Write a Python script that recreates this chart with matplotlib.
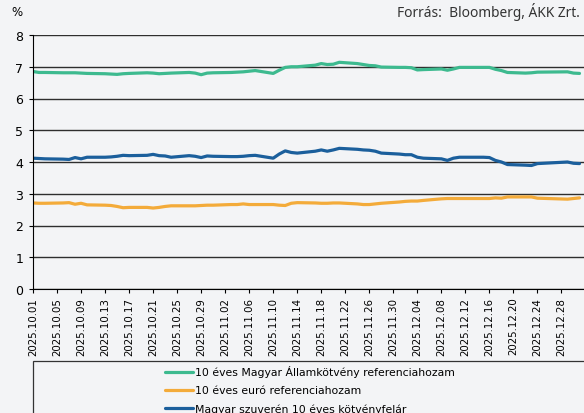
import numpy as np
import pandas as pd
import matplotlib
matplotlib.use('Agg')
import matplotlib.pyplot as plt
import matplotlib.dates as mdates
from matplotlib.patches import Rectangle

# trading days (weekdays) shown in the chart
dates_oct = ['10-01', '10-02', '10-03', '10-06', '10-07', '10-08', '10-09', '10-10',
             '10-13', '10-14', '10-15', '10-16', '10-17', '10-20', '10-21', '10-22',
             '10-23', '10-24', '10-27', '10-28', '10-29', '10-30', '10-31']
dates_nov = ['11-03', '11-04', '11-05', '11-06', '11-07', '11-10', '11-11', '11-12',
             '11-13', '11-14', '11-17', '11-18', '11-19', '11-20', '11-21', '11-24',
             '11-25', '11-26', '11-27', '11-28']
dates_dec = ['12-01', '12-02', '12-03', '12-04', '12-05', '12-08', '12-09', '12-10',
             '12-11', '12-12', '12-15', '12-16', '12-17', '12-18', '12-19', '12-22',
             '12-23', '12-24', '12-29', '12-30', '12-31']
dates = pd.to_datetime(['2025-' + d for d in dates_oct + dates_nov + dates_dec])

# 10 éves Magyar Államkötvény referenciahozam
hu_10y = [6.85, 6.82, 6.82, 6.81, 6.81, 6.81, 6.80, 6.79, 6.78, 6.77, 6.76, 6.78,
          6.79, 6.81, 6.80, 6.78, 6.79, 6.80, 6.82, 6.80, 6.75, 6.80, 6.81,
          6.82, 6.83, 6.84, 6.86, 6.88, 6.79, 6.89, 6.98, 7.00, 7.00, 7.05, 7.10,
          7.07, 7.08, 7.14, 7.10, 7.07, 7.04, 7.03, 6.99,
          6.98, 6.98, 6.97, 6.90, 6.91, 6.93, 6.89, 6.93, 6.98, 6.98, 6.98, 6.98,
          6.92, 6.88, 6.82, 6.80, 6.81, 6.83, 6.84, 6.80, 6.79]
# 10 éves euró referenciahozam
eur_10y = [2.71, 2.70, 2.70, 2.71, 2.72, 2.67, 2.70, 2.65, 2.64, 2.63, 2.60, 2.56,
           2.57, 2.57, 2.55, 2.57, 2.60, 2.62, 2.62, 2.62, 2.63, 2.64, 2.64,
           2.66, 2.66, 2.68, 2.66, 2.66, 2.66, 2.64, 2.63, 2.70, 2.72, 2.71, 2.70,
           2.70, 2.71, 2.71, 2.68, 2.66, 2.66, 2.68, 2.70,
           2.74, 2.76, 2.77, 2.77, 2.79, 2.84, 2.85, 2.85, 2.85, 2.85, 2.85, 2.85,
           2.87, 2.86, 2.90, 2.90, 2.90, 2.86, 2.83, 2.85, 2.87]
# Magyar szuverén 10 éves kötvényfelár
spread = [4.12, 4.11, 4.10, 4.09, 4.08, 4.14, 4.10, 4.15, 4.15, 4.16, 4.18, 4.21,
          4.20, 4.21, 4.24, 4.20, 4.19, 4.15, 4.20, 4.18, 4.14, 4.19, 4.18,
          4.17, 4.17, 4.18, 4.20, 4.21, 4.12, 4.25, 4.35, 4.30, 4.28, 4.34, 4.38,
          4.34, 4.38, 4.43, 4.40, 4.38, 4.37, 4.34, 4.28,
          4.25, 4.23, 4.23, 4.15, 4.12, 4.10, 4.05, 4.12, 4.15, 4.15, 4.15, 4.14,
          4.05, 4.00, 3.92, 3.90, 3.89, 3.95, 4.00, 3.96, 3.95]

labels = ['10 éves Magyar Államkötvény referenciahozam',
          '10 éves euró referenciahozam',
          'Magyar szuverén 10 éves kötvényfelár']
colors = ['#3dba8f', '#f3ab3a', '#1b5f9c']
bg = '#f3f4f6'

fig = plt.figure(figsize=(5.84, 4.14), dpi=100, facecolor=bg)
ax = fig.add_axes([33 / 584, 1 - 290 / 414, 1 - 33 / 584, (290 - 36) / 414])
ax.set_facecolor(bg)

lines = []
for vals, c, lab in zip([hu_10y, eur_10y, spread], colors, labels):
    ln, = ax.plot(dates, vals, color=c, lw=2.3, label=lab, solid_capstyle='round')
    lines.append(ln)

ax.set_ylim(0, 8)
ax.set_yticks(range(0, 9))
ax.set_xlim(pd.Timestamp('2025-10-01'), pd.Timestamp('2025-12-31') + pd.Timedelta(hours=18))
ticks = pd.date_range('2025-10-01', '2025-12-31', freq='4D')
ax.set_xticks(ticks)
ax.set_xticklabels([t.strftime('%Y.%m.%d') for t in ticks], rotation=90, fontsize=7.4)
ax.tick_params(axis='y', labelsize=9, length=3, width=0.8, pad=4)
ax.tick_params(axis='x', length=3, width=0.8, pad=2.5)
ax.grid(axis='y', color='#2e2e2e', lw=1.0)
ax.set_axisbelow(True)
for s in ['top', 'right']:
    ax.spines[s].set_visible(False)
ax.spines['left'].set_color('black')
ax.spines['bottom'].set_color('black')

fig.text(11 / 584, 1 - 12 / 414, '%', fontsize=8.5, va='center', ha='left')
fig.text(580 / 584, 1 - 12 / 414, 'Forrás:  Bloomberg, ÁKK Zrt.', fontsize=9.9,
         va='center', ha='right', family='Noto Sans', color='#333333')

# legend frame below the chart
fig.patches.append(Rectangle((33 / 584, -0.05), 1, (414 - 362) / 414 + 0.05,
                             transform=fig.transFigure, fill=False, ec='#333333', lw=0.9))
fig.legend(handles=lines, loc='upper left', bbox_to_anchor=(158 / 584, 1 - 360 / 414),
           frameon=False, fontsize=7.8, handlelength=2.6, handletextpad=0.25,
           labelspacing=0.72, borderpad=0.1)

fig.savefig('out.png', dpi=100, facecolor=bg)
